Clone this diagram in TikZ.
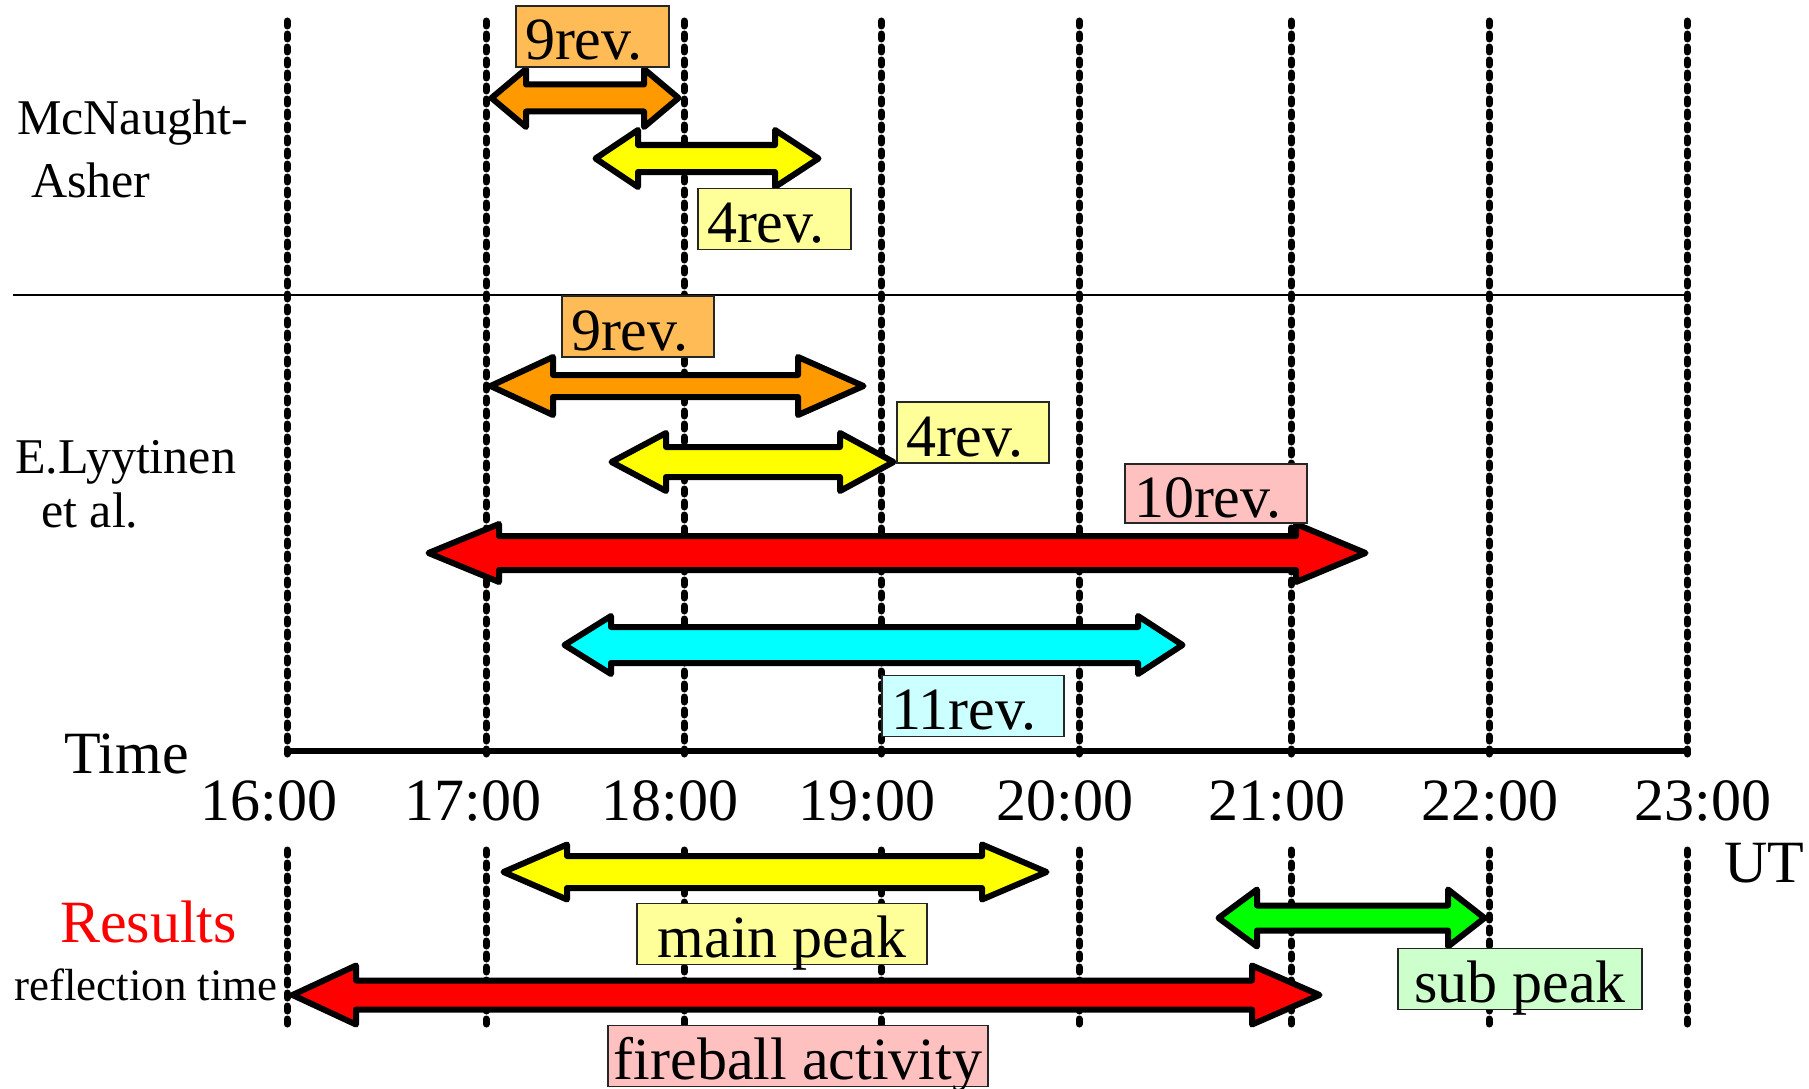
\documentclass[tikz,border=0pt]{standalone}
\usepackage{fontspec}
\setmainfont{Liberation Serif}
\definecolor{orA}{HTML}{FF9900}
\definecolor{orB}{HTML}{FFBB55}
\definecolor{yeA}{HTML}{FFFF00}
\definecolor{yeB}{HTML}{FFFF99}
\definecolor{reA}{HTML}{FF0000}
\definecolor{reB}{HTML}{FFC0C0}
\definecolor{cyA}{HTML}{00FFFF}
\definecolor{cyB}{HTML}{CCFFFF}
\definecolor{grA}{HTML}{00FF00}
\definecolor{grB}{HTML}{CCFFCC}
\newcommand\fbig{\fontsize{60pt}{66pt}\selectfont}
\newcommand\fmid{\fontsize{50pt}{56pt}\selectfont}
\newcommand\fsml{\fontsize{45pt}{50pt}\selectfont}
% #1 fill, #2 left tip, #3 right tip, #4 y, #5 left head len, #6 right head len, #7 head half, #8 shaft half (outer sizes)
\newcommand\dblarrow[8]{%
  \draw[blockarrow, fill=#1]
    ({#2+3.5},{#4}) -- ({#2+#5},{#4-#7+3}) -- ({#2+#5},{#4-#8+3}) --
    ({#3-#6},{#4-#8+3}) -- ({#3-#6},{#4-#7+3}) -- ({#3-3.5},{#4}) --
    ({#3-#6},{#4+#7-3}) -- ({#3-#6},{#4+#8-3}) --
    ({#2+#5},{#4+#8-3}) -- ({#2+#5},{#4+#7-3}) -- cycle;}
\tikzset{
  blockarrow/.style={draw=black, line width=6pt, line join=round},
  gridline/.style={line width=7pt, line cap=round, dash pattern=on 5pt off 8pt},
  lbl/.style={draw=black!85, line width=1.5pt, inner xsep=9pt, inner ysep=0pt,
    minimum height=61pt, text height=47pt, text depth=0pt, font=\fbig, anchor=center},
  txt/.style={inner sep=0pt, anchor=base west},
  tick/.style={inner sep=0pt, anchor=base, font=\fbig}
}
\begin{document}
\begin{tikzpicture}[x=1pt,y=-1pt]
\useasboundingbox (0,0) rectangle (1809,1089);
% vertical dashed grid lines
\foreach \xx in {287,486,684,881,1079,1291,1489,1687}{
  \draw[gridline] (\xx,21) -- (\xx,761);
  \draw[gridline] (\xx,850) -- (\xx,1024);
}
% separators and axis
\coordinate (sepL) at (13,295);
\coordinate (sepR) at (1687,295);
\draw[line width=2pt] (sepL) -- (sepR);
\coordinate (axL) at (287,751);
\coordinate (axR) at (1687,751);
\draw[line width=6pt] (axL) -- (axR);

% arrows: McNaught-Asher
\dblarrow{orA}{488}{682}{98}{38}{38}{32}{16.5}
\dblarrow{yeA}{592}{822}{158.5}{46}{47}{31.5}{16.5}
% arrows: Lyytinen
\dblarrow{orA}{487}{867}{386}{66}{69}{32}{14}
\dblarrow{yeA}{608}{897}{462}{58}{57}{32}{18}
\dblarrow{reA}{425}{1369}{553}{74}{73}{32}{20}
\dblarrow{cyA}{561}{1186}{645}{50}{48}{32}{21}
% arrows: results
\dblarrow{yeA}{500}{1050}{872}{67}{68}{30.5}{19}
\dblarrow{grA}{1215}{1488}{918}{42}{40}{31.5}{15.5}
\dblarrow{reA}{289}{1323}{995}{67}{71}{32.5}{17.5}

% label boxes
\node[lbl, fill=orB, minimum width=153pt, text width=135pt, align=left] (mA9) at (592.5,36.5) {9rev.};
\node[lbl, fill=yeB, minimum width=153pt, text width=135pt, align=left] (mA4) at (774.5,219) {4rev.};
\node[lbl, fill=orB, minimum width=152pt, text width=134pt, align=left] (ly9) at (638,326.5) {9rev.};
\node[lbl, fill=yeB, minimum width=152pt, text width=134pt, align=left] (ly4) at (973,432.5) {4rev.};
\node[lbl, fill=reB, minimum width=182pt, text width=164pt, align=left, minimum height=59pt] (ly10) at (1216,493.5) {10rev.};
\node[lbl, fill=cyB, minimum width=182pt, text width=164pt, align=left] (ly11) at (973,706) {11rev.};
\node[lbl, fill=yeB, minimum width=290pt] (mainpk) at (782,934) {main peak};
\node[lbl, fill=reB, minimum width=380pt, inner xsep=4pt] (fire) at (798,1056) {fireball activity};
\node[lbl, fill=grB, minimum width=244pt] (subpk) at (1520,979) {sub peak};

% side texts
\node[txt, font=\fmid] (mcn1) at (17,135) {McNaught-};
\node[txt, font=\fmid] (mcn2) at (31,197) {Asher};
\node[txt, font=\fmid] (ely1) at (15,473) {E.Lyytinen};
\node[txt, font=\fmid] (ely2) at (41,527) {et al.};
\node[txt, font=\fbig] (time) at (64,773) {Time};
\node[txt, font=\fbig] (ut) at (1724,882) {UT};
\node[txt, font=\fbig, text=reA] (res) at (60,942) {Results};
\node[txt, font=\fsml] (refl) at (14,1000) {reflection time};

% tick labels
\node[tick] (t16) at (269,820) {16:00};
\node[tick] (t17) at (473,820) {17:00};
\node[tick] (t18) at (670,820) {18:00};
\node[tick] (t19) at (867,820) {19:00};
\node[tick] (t20) at (1065,820) {20:00};
\node[tick] (t21) at (1277,820) {21:00};
\node[tick] (t22) at (1490,820) {22:00};
\node[tick] (t23) at (1703,820) {23:00};
\end{tikzpicture}
\end{document}
